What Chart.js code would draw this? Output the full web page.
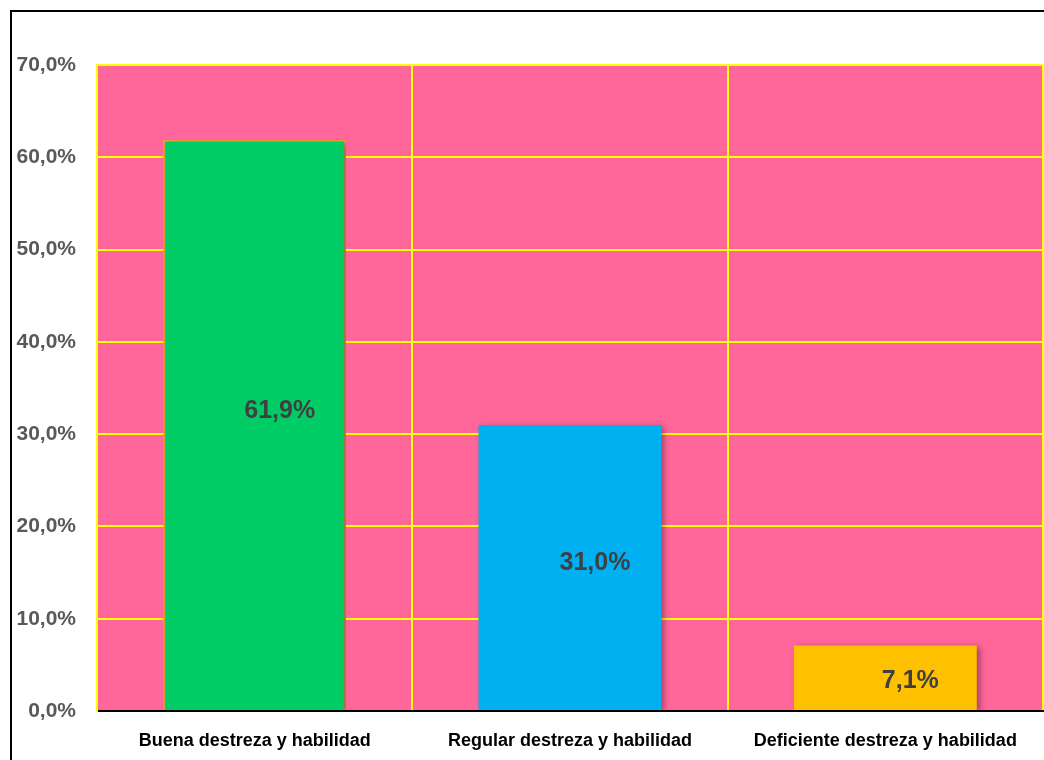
<!DOCTYPE html>
<html>
<head>
<meta charset="utf-8">
<script src="https://cdn.jsdelivr.net/npm/chart.js@4/dist/chart.umd.min.js"></script>
<style>
  body { margin: 0; background: #fff; }
  canvas { display: block; }
</style>
</head>
<body>
<canvas id="grafico" width="1044" height="760"></canvas>
<script>
// datos del gráfico
const categorias = ['Buena destreza y habilidad', 'Regular destreza y habilidad', 'Deficiente destreza y habilidad'];
const porcentajes = [61.9, 31.0, 7.1];
const coloresBarras = ['#00CC66', '#00B0F0', '#FFC000'];
const bordesBarras = ['#F0A040', '#00B0F0', '#FFC000'];

const fmt = v => v.toFixed(1).replace('.', ',') + '%';

// marco, fondo rosa del area de trazado, sombras y etiquetas
const decoracion = {
    id: 'decoracion',
    beforeDraw(chart) {
        const ctx = chart.ctx, a = chart.chartArea;
        ctx.save();
        ctx.fillStyle = '#fff';
        ctx.fillRect(0, 0, chart.width, chart.height);
        ctx.strokeStyle = '#000';
        ctx.lineWidth = 2;
        ctx.strokeRect(11, 11, chart.width, chart.height);
        ctx.fillStyle = '#FF6699';
        ctx.fillRect(a.left, a.top, a.right - a.left, a.bottom - a.top);
        ctx.restore();
    },
    beforeDatasetsDraw(chart) {
        const ctx = chart.ctx;
        ctx.save();
        ctx.shadowColor = 'rgba(0,0,0,0.35)';
        ctx.shadowBlur = 6;
        ctx.shadowOffsetX = 3;
        ctx.shadowOffsetY = 2;
    },
    afterDatasetsDraw(chart) {
        const ctx = chart.ctx;
        ctx.restore();
        ctx.save();
        ctx.fillStyle = '#404040';
        ctx.font = 'bold 25px "Liberation Sans", Arial, sans-serif';
        ctx.textAlign = 'center';
        ctx.textBaseline = 'middle';
        chart.getDatasetMeta(0).data.forEach((bar, i) => {
            const h = bar.base - bar.y;
            const y = (bar.y + bar.base) / 2 + 6 - 0.035 * h;
            ctx.fillText(fmt(porcentajes[i]), bar.x + 25, y);
        });
        ctx.restore();
    }
};

new Chart(document.getElementById('grafico'), {
    type: 'bar',
    data: {
        labels: categorias,
        datasets: [{
            data: porcentajes,
            backgroundColor: coloresBarras,
            borderColor: bordesBarras,
            borderWidth: [2, 0, 0],
            barPercentage: 0.58,
            categoryPercentage: 1
        }]
    },
    options: {
        responsive: false,
        animation: false,
        layout: { padding: { left: 0, top: 65, right: 1, bottom: 0 } },
        plugins: {
            legend: { display: false },
            tooltip: { enabled: false }
        },
        scales: {
            x: {
                afterFit: s => { s.height = 49; },
                grid: { color: '#FFFF00', lineWidth: 2, drawTicks: false, offset: true },
                border: { color: '#000', width: 2 },
                ticks: {
                    color: '#000',
                    padding: 19,
                    font: { family: '"Liberation Sans", Arial, sans-serif', size: 18, weight: 'bold' }
                }
            },
            y: {
                min: 0,
                max: 70,
                afterFit: s => { s.width = 97; },
                grid: { color: '#FFFF00', lineWidth: 2, drawTicks: false },
                border: { color: '#FFFF00', width: 2 },
                ticks: {
                    stepSize: 10,
                    color: '#595959',
                    padding: 21,
                    callback: v => fmt(v),
                    font: { family: '"Liberation Sans", Arial, sans-serif', size: 21, weight: 'bold' }
                }
            }
        }
    },
    plugins: [decoracion]
});
</script>
</body>
</html>
